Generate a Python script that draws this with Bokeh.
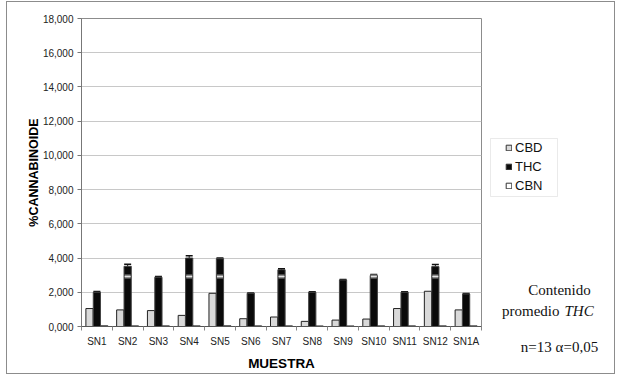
from bokeh.plotting import figure
from bokeh.layouts import row
from bokeh.models import (ColumnDataSource, FixedTicker, Legend, LegendItem, Label,
                          Whisker, Range1d, TeeHead, BoxAnnotation)
from bokeh.embed import file_html
from bokeh.resources import INLINE

# ---- data ----
samples = ["SN1", "SN2", "SN3", "SN4", "SN5", "SN6", "SN7", "SN8", "SN9", "SN10", "SN11", "SN12", "SN1A"]
cbd = [1050, 970, 930, 650, 1940, 455, 555, 300, 375, 435, 1050, 2060, 970]
thc = [2000, 3520, 2880, 4000, 3960, 1940, 3320, 2000, 2720, 2980, 2000, 3500, 1900]
thc_err = [40, 120, 40, 130, 40, 20, 50, 30, 30, 60, 30, 120, 30]
cbn = [40, 35, 35, 35, 40, 35, 35, 30, 30, 35, 35, 35, 35]
thc_mean_mark = 2920
y_ticks = [0, 2000, 4000, 6000, 8000, 10000, 12000, 14000, 16000, 18000]
y_tick_labels = ["0,000", "2,000", "4,000", "6,000", "8,000", "10,000", "12,000", "14,000", "16,000", "18,000"]
series_names = ["CBD", "THC", "CBN"]
series_colors = ["#d9d9d9", "#0a0a0a", "#ffffff"]

FONT = "Liberation Sans"
SERIF = "Liberation Serif"
H = 371

n = len(samples)
xc = list(range(1, n + 1))
W = 0.235
OFF = 0.24

p = figure(width=478, height=H, output_backend="svg", toolbar_location=None,
           x_range=Range1d(0.5, n + 0.5), y_range=Range1d(0, 18000),
           min_border_left=74, min_border_right=4, min_border_top=16, min_border_bottom=45)
p.frame_align = False
p.background_fill_color = "white"
p.border_fill_color = "white"
p.outline_line_color = "#8c8c8c"
p.outline_line_width = 1

src = ColumnDataSource(dict(
    x=xc, cbd=cbd, thc=thc, cbn=cbn,
    xl=[v - OFF for v in xc], xr=[v + OFF for v in xc],
    up=[t + e for t, e in zip(thc, thc_err)],
    lo=[t - e for t, e in zip(thc, thc_err)],
))

p.vbar(x="xl", top="cbd", width=W, source=src, fill_color=series_colors[0],
       line_color="#222222", line_width=1)
p.vbar(x="x", top="thc", width=W, source=src, fill_color=series_colors[1],
       line_color="#444444", line_width=1)
p.vbar(x="xr", top="cbn", width=W, source=src, fill_color=series_colors[2],
       line_color="#222222", line_width=1)

# mean mark stripes on THC bars above the mark
mx = [x for x, t in zip(xc, thc) if t > thc_mean_mark]
ms = ColumnDataSource(dict(x0=[x - W / 2 + 0.02 for x in mx], x1=[x + W / 2 - 0.02 for x in mx],
                           y=[thc_mean_mark] * len(mx)))
p.segment(x0="x0", x1="x1", y0="y", y1="y", source=ms, line_color="#8a8a8a", line_width=4)
p.segment(x0="x0", x1="x1", y0="y", y1="y", source=ms, line_color="#e6e6e6", line_width=1)

wh = Whisker(base="x", upper="up", lower="lo", source=src, line_color="#111111", line_width=1,
             upper_head=TeeHead(size=7, line_color="#111111", line_width=1.5),
             lower_head=TeeHead(size=7, line_color="#111111", line_width=1))
p.add_layout(wh)

# axes
p.xaxis.ticker = FixedTicker(ticks=xc, minor_ticks=[v + 0.5 for v in [0] + xc])
p.xaxis.major_label_overrides = {v: s for v, s in zip(xc, samples)}
p.xaxis.major_tick_line_color = None
p.xaxis.major_tick_out = 0
p.xaxis.major_tick_in = 0
p.xaxis.minor_tick_out = 4
p.xaxis.minor_tick_in = 0
p.xaxis.minor_tick_line_color = "#888888"
p.xaxis.axis_line_color = "#555555"
p.xaxis.major_label_standoff = 5
p.xaxis.major_label_text_font = FONT
p.xaxis.major_label_text_font_size = "10px"
p.xaxis.major_label_text_color = "#222222"
p.xaxis.axis_label = "MUESTRA"
p.xaxis.axis_label_text_font = FONT
p.xaxis.axis_label_text_font_style = "bold"
p.xaxis.axis_label_text_font_size = "13.5px"
p.xaxis.axis_label_text_color = "#000000"
p.xaxis.axis_label_standoff = 6

p.yaxis.ticker = FixedTicker(ticks=y_ticks, minor_ticks=[])
p.yaxis.major_label_overrides = {v: s for v, s in zip(y_ticks, y_tick_labels)}
p.yaxis.major_tick_out = 4
p.yaxis.major_tick_in = 0
p.yaxis.major_tick_line_color = "#777777"
p.yaxis.axis_line_color = "#777777"
p.yaxis.major_label_standoff = 4
p.yaxis.major_label_text_font = FONT
p.yaxis.major_label_text_font_size = "10px"
p.yaxis.major_label_text_color = "#222222"
p.yaxis.axis_label = "%CANNABINOIDE"
p.yaxis.axis_label_text_font = FONT
p.yaxis.axis_label_text_font_style = "bold"
p.yaxis.axis_label_text_font_size = "12.5px"
p.yaxis.axis_label_text_color = "#000000"
p.yaxis.axis_label_standoff = -1

p.xgrid.grid_line_color = None
p.ygrid.grid_line_color = "#c8c8c8"
p.ygrid.grid_line_width = 1

# ---- side panel: legend and notes ----
s = figure(width=129, height=H, output_backend="svg", toolbar_location=None,
           x_range=Range1d(0, 1), y_range=Range1d(0, 1),
           min_border_left=0, min_border_right=0, min_border_top=0, min_border_bottom=0)
s.frame_align = False
s.axis.visible = False
s.grid.visible = False
s.outline_line_color = None
s.background_fill_color = "white"
s.border_fill_color = "white"

# legend frame
s.add_layout(BoxAnnotation(left=5, right=72, bottom=177, top=235,
                           left_units="screen", right_units="screen",
                           bottom_units="screen", top_units="screen",
                           fill_color="white", fill_alpha=1,
                           line_color="#bbbbbb", line_width=1))

# legend proxies: same series, hidden
proxies = [s.vbar(x="x", top=col, width=W, source=src, fill_color=c, line_color="#333333",
                  visible=False)
           for col, c in zip(["cbd", "thc", "cbn"], series_colors)]
legend = Legend(items=[LegendItem(label=nm, renderers=[r]) for nm, r in zip(series_names, proxies)],
                location=(20, 178), orientation="vertical",
                label_text_font=FONT, label_text_font_size="13px", label_text_color="#111111",
                glyph_width=7, glyph_height=7, label_height=19, spacing=0, padding=0,
                margin=0, label_standoff=3,
                border_line_color=None, background_fill_alpha=0)
s.add_layout(legend, "center")

for txt, x, y, align, style in [("Contenido", 74, 84, "center", "normal"),
                                ("promedio", 74, 63, "right", "normal"),
                                ("THC", 79, 63, "left", "italic"),
                                ("n=13 \u03b1=0,05", 74, 27, "center", "normal")]:
    s.add_layout(Label(x=x, y=y, x_units="screen", y_units="screen", text=txt,
                       text_font=SERIF, text_font_size="15px", text_font_style=style,
                       text_align=align, text_baseline="middle", text_color="#111111"))

layout = row(p, s, spacing=0,
             styles={"border": "1px solid #8c8c8c", "margin-left": "6px", "margin-top": "1px"})
open("out.html", "w").write(file_html(layout, INLINE))
